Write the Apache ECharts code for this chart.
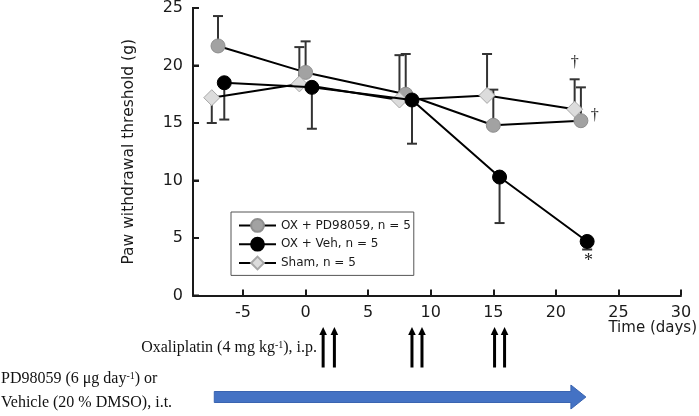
<!DOCTYPE html>
<html>
<head>
<meta charset="utf-8">
<script src="https://cdn.jsdelivr.net/npm/echarts@6/dist/echarts.min.js"></script>
<style>html,body{margin:0;padding:0;background:#fff}#c{width:699px;height:416px}</style>
</head>
<body>
<div id="c"></div>
<script>
// ---- data ----
const xMin = -9, xMax = 30;
const yMin = 0, yMax = 25;
const xTicks = [-5, 0, 5, 10, 15, 20, 25, 30];
const yTicks = [0, 5, 10, 15, 20, 25];

const daysPD = [-7, 0, 8, 15, 22];
const valPD = [21.7, 19.4, 17.5, 14.8, 15.2];
const errPD = [24.3, 22.1, 21.0, 17.9, 18.1];      // error bar end (upper)

const daysVeh = [-6.5, 0.5, 8.5, 15.5, 22.5];
const valVeh = [18.5, 18.1, 17.0, 10.3, 4.7];
const errVeh = [15.3, 14.5, 13.2, 6.3, 4.0];       // error bar end (lower)

const daysSham = [-7.5, -0.5, 7.5, 14.5, 21.5];
const valSham = [17.2, 18.4, 17.0, 17.4, 16.2];
const errSham = [15.0, 21.6, 20.9, 21.0, 18.8];    // error bar end

const oxaliDays = [1.4, 2.3, 8.5, 9.3, 15.1, 15.9];  // injection arrows
const treatSpan = [-7.3, 22.4];                      // PD98059 / vehicle period

const sigX = [21.5, 23.1, 22.6];
const sigY = [20.2, 15.6, 3.0];
const sigText = ['†', '†', '*'];

const names = ['OX + PD98059, n = 5', 'OX + Veh, n = 5', 'Sham, n = 5'];

// ---- build ----
const zip = (a, b) => a.map((v, i) => [v, b[i]]);
const zip3 = (a, b, c) => a.map((v, i) => [v, b[i], c[i]]);
const SANS = '"DejaVu Sans", sans-serif';
const SERIF = '"Liberation Serif", "Times New Roman", serif';
const AX = '#1a1a1a';

function errRender(params, api) {
  const x = api.value(0), v = api.value(1), b = api.value(2);
  const p1 = api.coord([x, v]), p2 = api.coord([x, b]);
  const st = { stroke: '#333', lineWidth: 2 };
  return { type: 'group', children: [
    { type: 'line', shape: { x1: p1[0], y1: p1[1], x2: p2[0], y2: p2[1] }, style: st },
    { type: 'line', shape: { x1: p2[0] - 5, y1: p2[1], x2: p2[0] + 5, y2: p2[1] }, style: st }
  ]};
}
function errSeries(d, v, e) {
  return { type: 'custom', renderItem: errRender, data: zip3(d, v, e),
    encode: { x: 0, y: [1, 2] }, z: 1, silent: true, tooltip: { show: false } };
}

const baseGraphic = [
  { id: 'tlabel', type: 'text', right: 2, top: 321, style: { text: 'Time (days)', fontSize: 15, fontFamily: SANS, fill: AX } },
  { id: 'oxali', type: 'text', x: 317, y: 348, style: {
      text: 'Oxaliplatin (4 mg kg{sup|-1}), i.p.', align: 'right', verticalAlign: 'middle',
      fontSize: 16, fontFamily: SERIF, fill: '#111',
      rich: { sup: { fontSize: 10, fontFamily: SERIF, verticalAlign: 'top', fill: '#111' } } } },
  { id: 'pd', type: 'text', x: 1, y: 379, style: {
      text: 'PD98059 (6 μg day{sup|-1}) or', align: 'left', verticalAlign: 'middle',
      fontSize: 16, fontFamily: SERIF, fill: '#111',
      rich: { sup: { fontSize: 10, fontFamily: SERIF, verticalAlign: 'top', fill: '#111' } } } },
  { id: 'veh', type: 'text', x: 1, y: 403, style: {
      text: 'Vehicle (20 % DMSO), i.t.', align: 'left', verticalAlign: 'middle',
      fontSize: 16, fontFamily: SERIF, fill: '#111' } }
];

const option = {
  animation: false,
  backgroundColor: '#fff',
  grid: { left: 193, right: 18, top: 5.5, bottom: 120.5 },
  xAxis: {
    type: 'value', min: xMin, max: xMax,
    axisLine: { show: true, lineStyle: { color: AX, width: 2 } },
    axisTick: { inside: true, length: 6, customValues: xTicks, lineStyle: { color: AX, width: 2 } },
    axisLabel: { customValues: xTicks, margin: 9, fontSize: 16, color: AX, fontFamily: SANS },
    splitLine: { show: false }
  },
  yAxis: {
    type: 'value', min: yMin, max: yMax, interval: 5,
    name: 'Paw withdrawal threshold (g)', nameLocation: 'middle', nameGap: 56,
    nameTextStyle: { fontSize: 15.5, color: AX, fontFamily: SANS },
    axisLine: { show: true, onZero: false, lineStyle: { color: AX, width: 2 } },
    axisTick: { show: true, inside: true, length: 6, lineStyle: { color: AX, width: 2 } },
    axisLabel: { margin: 10, fontSize: 16, color: AX, fontFamily: SANS },
    splitLine: { show: false }
  },
  legend: {
    left: 231, top: 212, orient: 'vertical',
    data: names,
    itemWidth: 37, itemHeight: 16, itemGap: 4,
    padding: [6, 3, 5, 7],
    borderColor: '#555', borderWidth: 1,
    textStyle: { fontSize: 12, color: AX, fontFamily: SANS }
  },
  series: [
    errSeries(daysPD, valPD, errPD),
    errSeries(daysSham, valSham, errSham),
    errSeries(daysVeh, valVeh, errVeh),
    { name: names[0], type: 'line', data: zip(daysPD, valPD), z: 3,
      symbol: 'circle', symbolSize: 14,
      lineStyle: { color: '#000', width: 2 },
      itemStyle: { color: '#a2a2a2', borderColor: '#8e8e8e', borderWidth: 1 } },
    { name: names[2], type: 'line', data: zip(daysSham, valSham), z: 4,
      symbol: 'diamond', symbolSize: 16,
      lineStyle: { color: '#000', width: 2 },
      itemStyle: { color: '#dcdcdc', borderColor: '#a8a8a8', borderWidth: 1 } },
    { name: names[1], type: 'line', data: zip(daysVeh, valVeh), z: 5,
      symbol: 'circle', symbolSize: 14,
      lineStyle: { color: '#000', width: 2 },
      itemStyle: { color: '#000', borderColor: '#000', borderWidth: 1 } },
    { type: 'custom', silent: true, z: 6,
      data: sigX.map((x, i) => [x, sigY[i]]), encode: { x: 0, y: 1 },
      renderItem: function (params, api) {
        const p = api.coord([api.value(0), api.value(1)]);
        const t = sigText[params.dataIndex];
        return { type: 'text', x: p[0], y: p[1], style: {
          text: t, align: 'center', verticalAlign: 'middle',
          fontSize: t === '*' ? 18 : 16, fontFamily: SERIF, fill: '#222' } };
      } },
    { type: 'custom', silent: true, clip: false, z: 6,
      data: oxaliDays.map(d => [d, 0]), encode: { x: 0, y: 1 },
      renderItem: function (params, api) {
        const p = api.coord([api.value(0), 0]);
        const x = p[0], top = p[1] + 31.5, bot = p[1] + 72;
        return { type: 'group', children: [
          { type: 'line', shape: { x1: x, y1: top + 6, x2: x, y2: bot }, style: { stroke: '#000', lineWidth: 3 } },
          { type: 'polygon', shape: { points: [[x, top], [x - 3.8, top + 8], [x + 3.8, top + 8]] }, style: { fill: '#000' } }
        ]};
      } },
    { type: 'custom', silent: true, clip: false, z: 6,
      data: [[treatSpan[0], treatSpan[1]]], encode: { x: [0, 1] },
      renderItem: function (params, api) {
        const a = api.coord([api.value(0), 0]), b = api.coord([api.value(1), 0]);
        const cy = a[1] + 101.5, h = 5.5, hh = 12, hl = 15;
        const x0 = a[0], x1 = b[0];
        return { type: 'polygon', shape: { points: [
          [x0, cy - h], [x1 - hl, cy - h], [x1 - hl, cy - hh], [x1, cy],
          [x1 - hl, cy + hh], [x1 - hl, cy + h], [x0, cy + h]] },
          style: { fill: '#4472c4', stroke: '#3a64b0', lineWidth: 1 } };
      } }
  ],
  graphic: baseGraphic
};
const chart = echarts.init(document.getElementById('c'), null, { renderer: 'canvas' });
chart.setOption(option);

// y axis line and inward ticks, positioned through the chart's own scales
const pA = chart.convertToPixel({ gridIndex: 0 }, [xMin, yMin]);
const pB = chart.convertToPixel({ gridIndex: 0 }, [xMin, yMax]);
const axisGraphic = [{ id: 'yline', type: 'line', z: 100,
  shape: { x1: pA[0], y1: pA[1] + 1, x2: pB[0], y2: pB[1] - 1 }, style: { stroke: AX, lineWidth: 2 } }];
yTicks.forEach((v, i) => {
  const p = chart.convertToPixel({ gridIndex: 0 }, [xMin, v]);
  axisGraphic.push({ id: 'ytick' + i, type: 'line', z: 100,
    shape: { x1: p[0], y1: p[1], x2: p[0] + 6, y2: p[1] }, style: { stroke: AX, lineWidth: 2 } });
});
chart.setOption({ graphic: baseGraphic.concat(axisGraphic) });
</script>
</body>
</html>
